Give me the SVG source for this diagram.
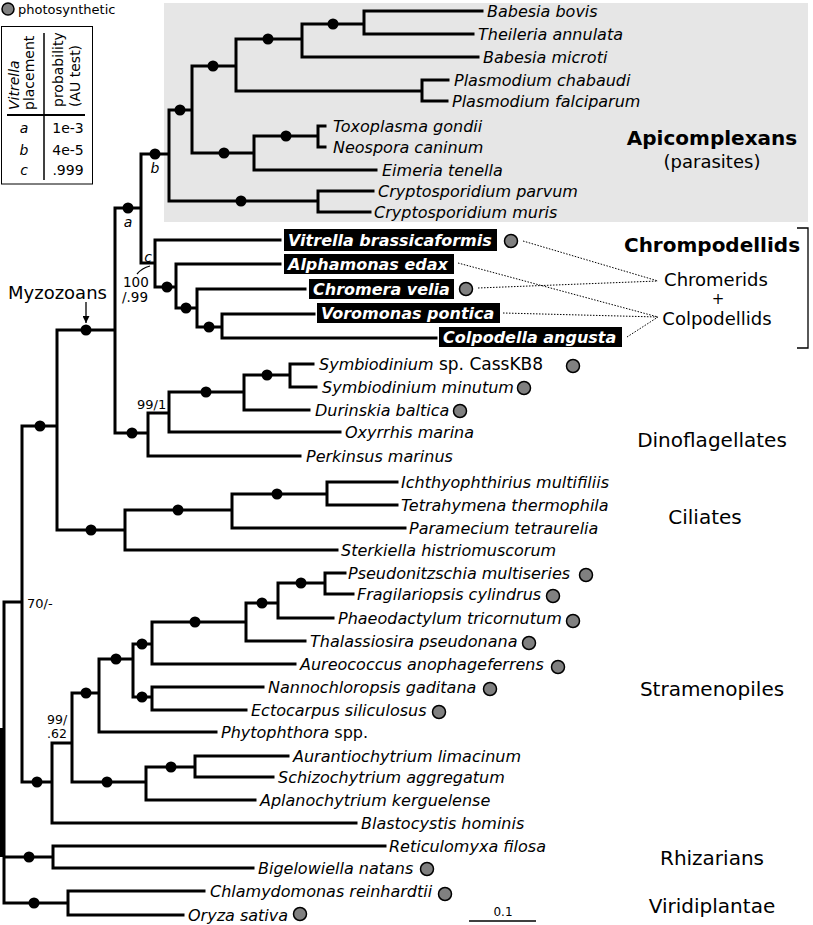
<svg xmlns="http://www.w3.org/2000/svg" width="813" height="925" viewBox="0 0 813 925">
<defs>
<style>
.br{fill:none;stroke:#000;stroke-width:3;stroke-linecap:square}
.dot{fill:#000}
.ph{fill:#808080;stroke:#000;stroke-width:1.5}
.leaf{font-family:"DejaVu Sans",sans-serif;font-size:16px;font-style:italic;fill:#000}
.rom{font-style:normal}
.box{fill:#000}
.boxt{font-family:"DejaVu Sans",sans-serif;font-size:16px;font-style:italic;font-weight:bold;fill:#fff}
.grp{font-family:"DejaVu Sans",sans-serif;font-size:20px;fill:#000;text-anchor:middle}
.sub{font-family:"DejaVu Sans",sans-serif;font-size:18px;fill:#000;text-anchor:middle}
.sup{font-family:"DejaVu Sans",sans-serif;font-size:13px;fill:#000}
.tbl{font-family:"DejaVu Sans",sans-serif;font-size:14px;fill:#000}
.dash{fill:none;stroke:#000;stroke-width:1;stroke-dasharray:1.5 1.5}
</style>
<marker id="arr" viewBox="0 0 10 10" refX="10" refY="5" markerWidth="7" markerHeight="7" orient="auto" markerUnits="userSpaceOnUse">
<path d="M0,0 L10,5 L0,10 z" fill="#000"/>
</marker>
</defs>
<rect x="0" y="0" width="813" height="925" fill="#fff"/>

<!-- Apicomplexa shaded area -->
<rect id="apicomplexa-bg" x="164" y="3" width="644" height="219" fill="#e6e6e6"/>

<!-- legend -->
<g id="legend">
<circle class="ph" cx="8" cy="9" r="6"/>
<text x="18" y="14" style="font-family:'DejaVu Sans',sans-serif;font-size:13px">photosynthetic</text>
</g>

<!-- table -->
<g id="au-table">
<rect x="1.5" y="26.5" width="91" height="157.5" fill="#fff" stroke="#000" stroke-width="1"/>
<line x1="7" y1="115" x2="85" y2="115" stroke="#000" stroke-width="2"/>
<line x1="44" y1="33" x2="44" y2="180" stroke="#000" stroke-width="1.5"/>
<text class="tbl" transform="translate(19,110) rotate(-90)" font-style="italic">Vitrella</text>
<text class="tbl" transform="translate(34,110) rotate(-90)">placement</text>
<text class="tbl" transform="translate(63,107) rotate(-90)">probability</text>
<text class="tbl" transform="translate(80,107) rotate(-90)">(AU test)</text>
<text class="tbl" x="24" y="133" text-anchor="middle" font-style="italic">a</text>
<text class="tbl" x="24" y="155" text-anchor="middle" font-style="italic">b</text>
<text class="tbl" x="24" y="175" text-anchor="middle" font-style="italic">c</text>
<text class="tbl" x="68" y="133" text-anchor="middle">1e-3</text>
<text class="tbl" x="68" y="155" text-anchor="middle">4e-5</text>
<text class="tbl" x="68" y="175" text-anchor="middle">.999</text>
</g>

<!-- connectors: tree branches -->
<g id="connectors">
<path class="br" d="
M4,602 V903 M4,602 H22 M4,857 H53 M4,903 H68
M22,426 V782 M22,426 H57 M22,782 H52
M57,330 V530 M57,330 H115 M57,530 H125
M115,208 V433 M115,208 H141 M115,433 H148
M141,154 V263 M141,154 H169 M141,263 H155
M169,110 V201 M169,110 H192 M169,201 H318
M192,66 V153 M192,66 H236 M192,153 H254
M236,39 V91 M236,39 H302 M236,91 H422
M302,24 V57 M302,24 H364 M302,57 H478
M364,11 V34 M364,11 H482 M364,34 H473
M422,80 V101 M422,80 H448 M422,101 H447
M254,136 V170 M254,136 H318 M254,170 H376
M318,126 V147 M318,126 H325 M318,147 H325
M318,191 V212 M318,191 H373 M318,212 H370
M155,240 V287 M155,240 H280 M155,287 H176
M176,264 V308 M176,264 H280 M176,308 H197
M197,289 V327 M197,289 H305 M197,327 H222
M222,314 V338 M222,314 H314 M222,338 H436
M148,413 V456 M148,413 H169 M148,456 H300
M169,392 V432 M169,392 H244 M169,432 H340
M244,375 V410 M244,375 H290 M244,410 H309
M290,364 V387 M290,364 H313 M290,387 H316
M125,510 V550 M125,510 H232 M125,550 H337
M232,494 V528 M232,494 H327 M232,528 H405
M327,482 V505 M327,482 H397 M327,505 H397
M52,743 V823 M52,743 H72 M52,823 H356
M72,693 V782 M72,693 H99 M72,782 H146
M99,659 V732 M99,659 H133 M99,732 H216
M133,644 V697 M133,644 H152 M133,697 H152
M152,622 V664 M152,622 H246 M152,664 H295
M246,603 V641 M246,603 H278 M246,641 H305
M278,583 V618 M278,583 H325 M278,618 H333
M325,573 V594 M325,573 H345 M325,594 H353
M152,687 V710 M152,687 H263 M152,710 H246
M146,767 V800 M146,767 H195 M146,800 H255
M195,756 V777 M195,756 H288 M195,777 H273
M53,846 V868 M53,846 H385 M53,868 H253
M68,891 V915 M68,891 H204 M68,915 H183
"/>
<rect x="0" y="728" width="5" height="129" fill="#000"/>
<!-- support dots -->
<g class="dot">
<circle cx="40" cy="426" r="5.5"/>
<circle cx="86" cy="330" r="5.5"/>
<circle cx="91" cy="530" r="5.5"/>
<circle cx="128" cy="208" r="5.5"/>
<circle cx="155" cy="154" r="5.5"/>
<circle cx="180" cy="110" r="5.5"/>
<circle cx="213" cy="66" r="5.5"/>
<circle cx="268" cy="39" r="5.5"/>
<circle cx="333" cy="24" r="5.5"/>
<circle cx="224" cy="153" r="5.5"/>
<circle cx="286" cy="136" r="5.5"/>
<circle cx="241" cy="201" r="5.5"/>
<circle cx="167" cy="287" r="5.5"/>
<circle cx="186" cy="308" r="5.5"/>
<circle cx="209" cy="327" r="5.5"/>
<circle cx="132" cy="433" r="5.5"/>
<circle cx="206" cy="392" r="5.5"/>
<circle cx="267" cy="375" r="5.5"/>
<circle cx="178" cy="510" r="5.5"/>
<circle cx="277" cy="494" r="5.5"/>
<circle cx="37" cy="782" r="5.5"/>
<circle cx="86" cy="693" r="5.5"/>
<circle cx="116" cy="659" r="5.5"/>
<circle cx="142" cy="644" r="5.5"/>
<circle cx="195" cy="622" r="5.5"/>
<circle cx="262" cy="603" r="5.5"/>
<circle cx="301" cy="583" r="5.5"/>
<circle cx="142" cy="697" r="5.5"/>
<circle cx="107" cy="782" r="5.5"/>
<circle cx="171" cy="767" r="5.5"/>
<circle cx="29" cy="857" r="5.5"/>
<circle cx="34" cy="903" r="5.5"/>
</g>
<!-- dotted links -->
<path class="dash" d="M523,241 L658,281 M478,288 L658,281 M458,263 L658,317 M503,313 L658,317 M627,337 L658,317"/>
<!-- Myzozoans arrow -->
<line x1="86" y1="302" x2="86" y2="323" stroke="#000" stroke-width="1.3" marker-end="url(#arr)"/>
<!-- c pointer -->
<path d="M137,274 Q142,268 150,266" fill="none" stroke="#000" stroke-width="1.2"/>
</g>

<!-- support labels -->
<g id="support-labels">
<text class="tbl" x="155" y="173" text-anchor="middle" font-style="italic">b</text>
<text class="tbl" x="128" y="227" text-anchor="middle" font-style="italic">a</text>
<text class="tbl" x="148" y="262" text-anchor="middle" font-style="italic">c</text>
<text class="sup" x="123" y="287" style="font-size:13.5px">100</text>
<text class="sup" x="122" y="302" style="font-size:13.5px">/.99</text>
<text class="sup" x="137" y="409">99/1</text>
<text class="sup" x="27" y="608">70/-</text>
<text class="sup" x="47" y="724" style="font-size:12.5px">99/</text>
<text class="sup" x="47" y="738" style="font-size:12.5px">.62</text>
<text id="myzozoans" x="8" y="299" style="font-family:'DejaVu Sans',sans-serif;font-size:18px">Myzozoans</text>
</g>

<!-- Apicomplexan leaves -->
<g id="apicomplexan-leaves">
<text class="leaf" x="487" y="17">Babesia bovis</text>
<text class="leaf" x="478" y="40">Theileria annulata</text>
<text class="leaf" x="483" y="63">Babesia microti</text>
<text class="leaf" x="454" y="86">Plasmodium chabaudi</text>
<text class="leaf" x="452" y="107">Plasmodium falciparum</text>
<text class="leaf" x="333" y="132">Toxoplasma gondii</text>
<text class="leaf" x="333" y="153">Neospora caninum</text>
<text class="leaf" x="382" y="176">Eimeria tenella</text>
<text class="leaf" x="378" y="197">Cryptosporidium parvum</text>
<text class="leaf" x="374" y="218">Cryptosporidium muris</text>
</g>

<!-- Chrompodellid leaves -->
<g id="vitrella"><rect class="box" x="284" y="229" width="213" height="22"/><text class="boxt" x="288" y="246">Vitrella brassicaformis</text><circle class="ph" cx="511" cy="241" r="6.5"/></g>
<g id="alphamonas"><rect class="box" x="284" y="254" width="170" height="20"/><text class="boxt" x="288" y="270">Alphamonas edax</text></g>
<g id="chromera"><rect class="box" x="309" y="279" width="145" height="20"/><text class="boxt" x="313" y="295">Chromera velia</text><circle class="ph" cx="466" cy="289" r="6.5"/></g>
<g id="voromonas"><rect class="box" x="317" y="303" width="183" height="20"/><text class="boxt" x="321" y="319">Voromonas pontica</text></g>
<g id="colpodella"><rect class="box" x="439" y="327" width="183" height="20"/><text class="boxt" x="443" y="343">Colpodella angusta</text></g>

<!-- Dinoflagellate leaves -->
<g id="dino-leaves">
<text class="leaf" x="319" y="370">Symbiodinium<tspan class="rom" style="font-size:17px"> sp. CassKB8</tspan></text>
<circle class="ph" cx="573" cy="366" r="6.5"/>
<text class="leaf" x="322" y="393">Symbiodinium minutum</text>
<circle class="ph" cx="524" cy="388" r="6.5"/>
<text class="leaf" x="315" y="416">Durinskia baltica</text>
<circle class="ph" cx="460" cy="411" r="6.5"/>
<text class="leaf" x="345" y="438">Oxyrrhis marina</text>
<text class="leaf" x="306" y="462">Perkinsus marinus</text>
</g>

<!-- Ciliate leaves -->
<g id="ciliate-leaves">
<text class="leaf" x="401" y="488">Ichthyophthirius multifiliis</text>
<text class="leaf" x="401" y="511">Tetrahymena thermophila</text>
<text class="leaf" x="409" y="534">Paramecium tetraurelia</text>
<text class="leaf" x="341" y="556">Sterkiella histriomuscorum</text>
</g>

<!-- Stramenopile leaves -->
<g id="stramenopile-leaves">
<text class="leaf" x="348" y="579">Pseudonitzschia multiseries</text>
<circle class="ph" cx="586" cy="575" r="6.5"/>
<text class="leaf" x="357" y="600">Fragilariopsis cylindrus</text>
<circle class="ph" cx="553" cy="596" r="6.5"/>
<text class="leaf" x="338" y="624">Phaeodactylum tricornutum</text>
<circle class="ph" cx="573" cy="621" r="6.5"/>
<text class="leaf" x="310" y="647">Thalassiosira pseudonana</text>
<circle class="ph" cx="529" cy="643" r="6.5"/>
<text class="leaf" x="300" y="670">Aureococcus anophageferrens</text>
<circle class="ph" cx="558" cy="667" r="6.5"/>
<text class="leaf" x="268" y="693">Nannochloropsis gaditana</text>
<circle class="ph" cx="490" cy="689" r="6.5"/>
<text class="leaf" x="251" y="716">Ectocarpus siliculosus</text>
<circle class="ph" cx="439" cy="712" r="6.5"/>
<text class="leaf" x="221" y="738">Phytophthora<tspan class="rom"> spp.</tspan></text>
<text class="leaf" x="293" y="762">Aurantiochytrium limacinum</text>
<text class="leaf" x="278" y="783">Schizochytrium aggregatum</text>
<text class="leaf" x="260" y="806">Aplanochytrium kerguelense</text>
<text class="leaf" x="361" y="829">Blastocystis hominis</text>
</g>

<!-- Rhizarian & Viridiplantae leaves -->
<g id="rhizarian-leaves">
<text class="leaf" x="389" y="852">Reticulomyxa filosa</text>
<text class="leaf" x="258" y="874">Bigelowiella natans</text>
<circle class="ph" cx="427" cy="869" r="6.5"/>
</g>
<g id="viridiplantae-leaves">
<text class="leaf" x="210" y="897">Chlamydomonas reinhardtii</text>
<circle class="ph" cx="445" cy="894" r="6.5"/>
<text class="leaf" x="188" y="921">Oryza sativa</text>
<circle class="ph" cx="300" cy="914" r="6.5"/>
</g>

<!-- Group labels -->
<g id="group-labels">
<text class="grp" x="712" y="145" font-weight="bold">Apicomplexans</text>
<text class="sub" x="712" y="168">(parasites)</text>
<text class="grp" x="712" y="252" font-weight="bold">Chrompodellids</text>
<text class="sub" x="716" y="286">Chromerids</text>
<text class="sub" x="718" y="304" style="font-size:15px">+</text>
<text class="sub" x="717" y="325">Colpodellids</text>
<text class="grp" x="712" y="447">Dinoflagellates</text>
<text class="grp" x="705" y="524">Ciliates</text>
<text class="grp" x="712" y="696">Stramenopiles</text>
<text class="grp" x="712" y="865">Rhizarians</text>
<text class="grp" x="712" y="913">Viridiplantae</text>
</g>
<path id="chrompodellid-bracket" d="M797,228 H808 V348 H797" fill="none" stroke="#000" stroke-width="1.3"/>

<!-- scale bar -->
<g id="scale">
<line x1="469" y1="921" x2="536" y2="921" stroke="#000" stroke-width="1.5"/>
<text x="503" y="916" text-anchor="middle" style="font-family:'DejaVu Sans',sans-serif;font-size:12px">0.1</text>
</g>
</svg>
